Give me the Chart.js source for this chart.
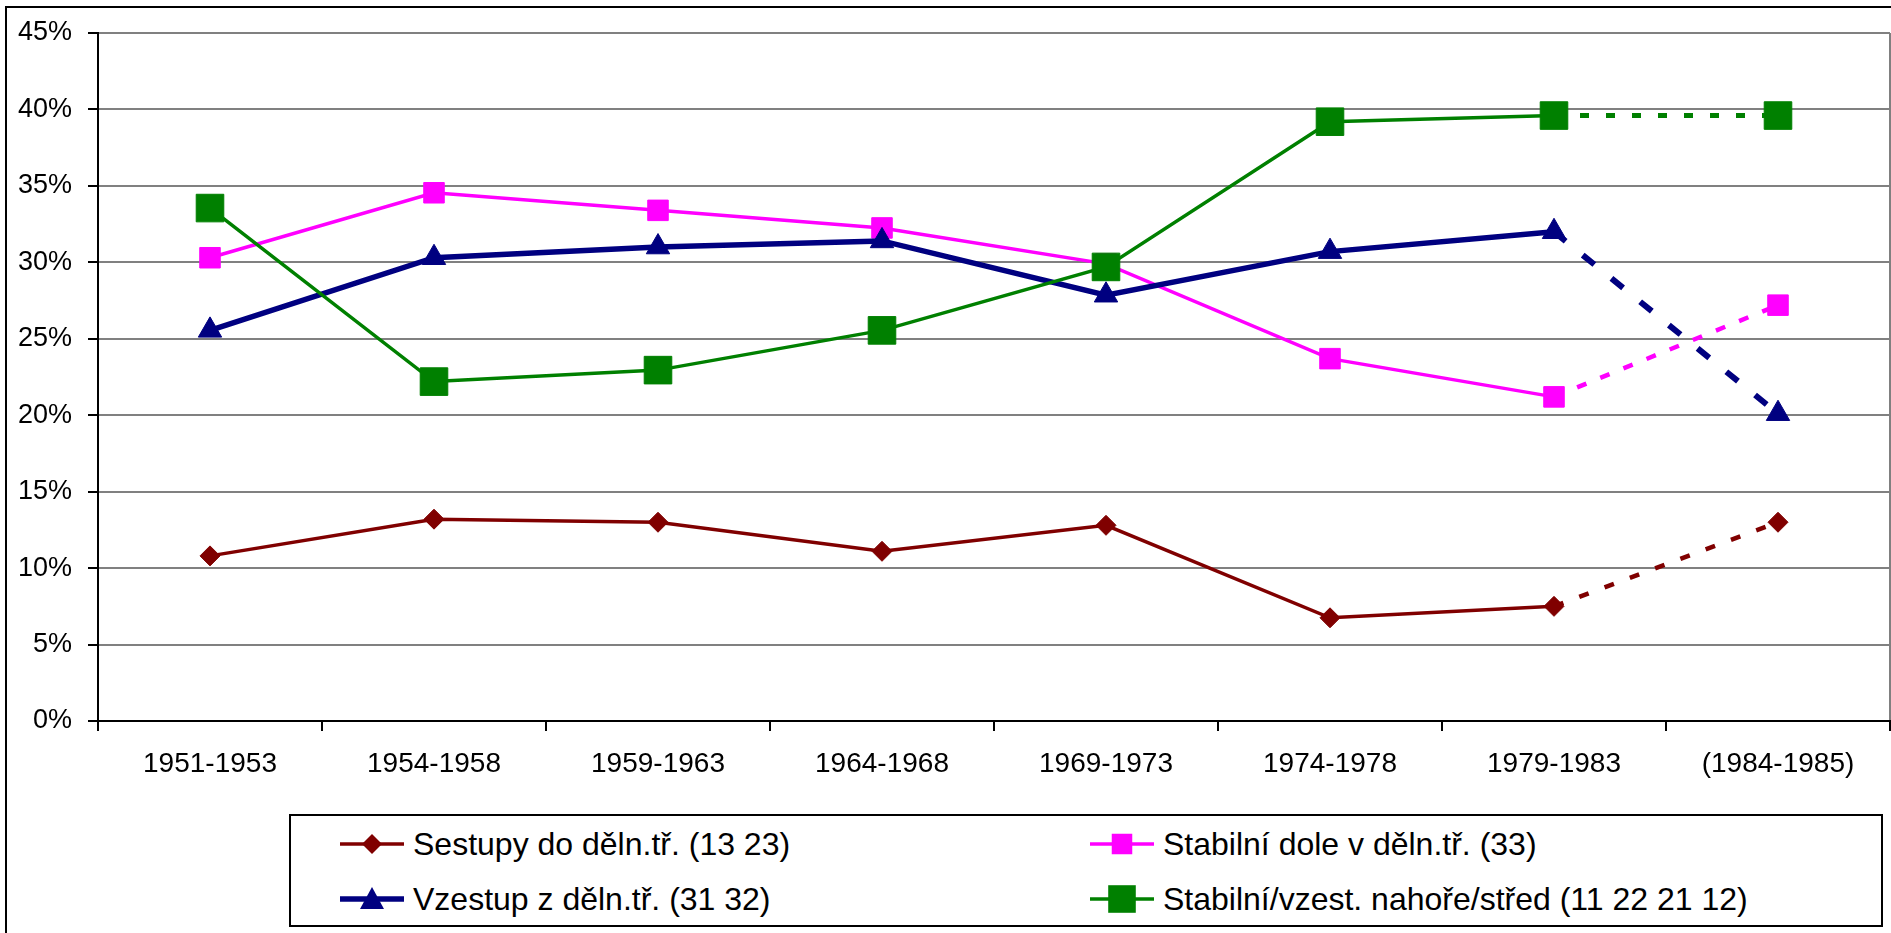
<!DOCTYPE html>
<html>
<head>
<meta charset="utf-8">
<script src="https://cdn.jsdelivr.net/npm/chart.js@4"></script>
<style>
    html, body { margin: 0; padding: 0; background: #fff; overflow: hidden; }
    #wrap { position: relative; width: 1891px; height: 933px; overflow: hidden; }
    #frame { position: absolute; left: 5px; top: 6px; width: 1900px; height: 1000px; border: 2px solid #000; }
    #chart { position: absolute; left: 0; top: 0; }
    #legend { position: absolute; left: 289px; top: 814px; width: 1594px; height: 113px; box-sizing: border-box;
        border: 2px solid #000; background: #fff; }
    .item { position: absolute; height: 32px; display: flex; align-items: center;
        font-family: "Liberation Sans", Arial, sans-serif; font-size: 32px; color: #000; white-space: nowrap; }
    .item svg { margin-right: 9px; }
</style>
</head>
<body>
<div id="wrap">
    <div id="frame"></div>
    <canvas id="chart" width="1891" height="933"></canvas>
    <div id="legend"></div>
</div>
<script>
// categories
let periods = ["1951-1953", "1954-1958", "1959-1963", "1964-1968", "1969-1973", "1974-1978", "1979-1983", "(1984-1985)"];

// series values in %
let sestupy = [10.8, 13.2, 13.0, 11.1, 12.8, 6.75, 7.5, 13.0];
let stabilniDole = [30.3, 34.55, 33.4, 32.25, 29.9, 23.7, 21.2, 27.2];
let vzestup = [25.55, 30.3, 31.0, 31.4, 27.85, 30.7, 32.0, 20.1];
let stabilniNahore = [33.55, 22.2, 22.95, 25.55, 29.7, 39.2, 39.6, 39.6];

// series names
let seriesNames = [
    "Sestupy do děln.tř. (13 23)",
    "Stabilní dole v děln.tř. (33)",
    "Vzestup z děln.tř. (31 32)",
    "Stabilní/vzest. nahoře/střed (11 22 21 12)"
];

// y axis ticks
let yMin = 0;
let yMax = 45;
let yStep = 5;

const FONT = "'Liberation Sans', Arial, sans-serif";

/**
 * returns a segment option that only applies to the last (estimated) segment
 */
function lastSeg(value) {
    return function (ctx) {
        return ctx.p1DataIndex === periods.length - 1 ? value : undefined;
    };
}

let datasets = [
    {
        label: seriesNames[0],
        data: sestupy,
        borderColor: "#800000",
        backgroundColor: "#800000",
        borderWidth: 3.5,
        pointStyle: "rectRot",
        pointRadius: 10,
        pointBorderWidth: 1,
        order: 4,
        segment: {borderDash: lastSeg([10, 17]), borderWidth: lastSeg(4.5)}
    },
    {
        label: seriesNames[1],
        data: stabilniDole,
        borderColor: "#ff00ff",
        backgroundColor: "#ff00ff",
        borderWidth: 3.5,
        pointStyle: "rect",
        pointRadius: 14.5,
        pointBorderWidth: 1,
        order: 3,
        segment: {borderDash: lastSeg([10, 15]), borderWidth: lastSeg(4.5)}
    },
    {
        label: seriesNames[2],
        data: vzestup,
        borderColor: "#000080",
        backgroundColor: "#000080",
        borderWidth: 5.5,
        pointStyle: "triangle",
        pointRadius: 13.5,
        pointBorderWidth: 1,
        order: 2,
        segment: {borderDash: lastSeg([15, 22]), borderWidth: lastSeg(6)}
    },
    {
        label: seriesNames[3],
        data: stabilniNahore,
        borderColor: "#008000",
        backgroundColor: "#008000",
        borderWidth: 3.5,
        pointStyle: "rect",
        pointRadius: 19.5,
        pointBorderWidth: 1,
        order: 1,
        segment: {borderDash: lastSeg([9, 17]), borderWidth: lastSeg(5)}
    }
];

let chart = new Chart(document.getElementById("chart"), {
    type: "line",
    data: {labels: periods, datasets: datasets},
    options: {
        responsive: false,
        animation: false,
        layout: {autoPadding: false, padding: {top: 33, right: 1, left: 0, bottom: 0}},
        plugins: {
            legend: {display: false},
            tooltip: {enabled: false}
        },
        scales: {
            x: {
                offset: true,
                afterFit: function (scale) {
                    scale.height = 212;
                    scale.paddingLeft = 0;
                    scale.paddingRight = 0;
                },
                border: {color: "#000", width: 2},
                grid: {
                    offset: true,
                    drawOnChartArea: true,
                    color: function (ctx) { return ctx.type === "scale" ? "#808080" : "rgba(0,0,0,0)"; },
                    lineWidth: 2,
                    tickColor: "#000",
                    tickLength: 10
                },
                ticks: {
                    color: "#000",
                    font: {family: FONT, size: 28},
                    padding: 16,
                    maxRotation: 0,
                    autoSkip: false
                }
            },
            y: {
                min: yMin,
                max: yMax,
                afterFit: function (scale) { scale.width = 98; },
                border: {color: "#000", width: 2},
                grid: {
                    color: function (ctx) { return ctx.tick && ctx.tick.value === 0 ? "#000" : "#808080"; },
                    lineWidth: 2,
                    tickColor: "#000",
                    tickLength: 10
                },
                ticks: {
                    stepSize: yStep,
                    color: "#000",
                    font: {family: FONT, size: 27},
                    padding: 16,
                    callback: function (v) { return v + "%"; }
                }
            }
        }
    }
});

/**
 * builds the legend symbol: line with marker
 */
function markerSvg(ds) {
    let c = ds.borderColor;
    let w = ds.borderWidth;
    let m = "";
    if (ds.pointStyle === "rectRot") {
        m = '<polygon points="32,6 42,16 32,26 22,16" fill="' + c + '"/>';
    } else if (ds.pointStyle === "triangle") {
        m = '<polygon points="32,4 44,26 20,26" fill="' + c + '"/>';
    } else {
        let s = ds.pointRadius * Math.SQRT2;
        m = '<rect x="' + (32 - s / 2) + '" y="' + (16 - s / 2) + '" width="' + s + '" height="' + s + '" fill="' + c + '"/>';
    }
    return '<svg width="64" height="32" viewBox="0 0 64 32" overflow="visible">' +
        '<line x1="0" y1="16" x2="64" y2="16" stroke="' + c + '" stroke-width="' + w + '"/>' + m + '</svg>';
}

let legendEl = document.getElementById("legend");
let cols = [49, 799];
let rows = [12, 67];
datasets.forEach(function (ds, i) {
    let el = document.createElement("div");
    el.className = "item";
    el.style.left = cols[i % 2] + "px";
    el.style.top = rows[Math.floor(i / 2)] + "px";
    el.innerHTML = markerSvg(ds) + "<span>" + ds.label + "</span>";
    legendEl.appendChild(el);
});
</script>
</body>
</html>
